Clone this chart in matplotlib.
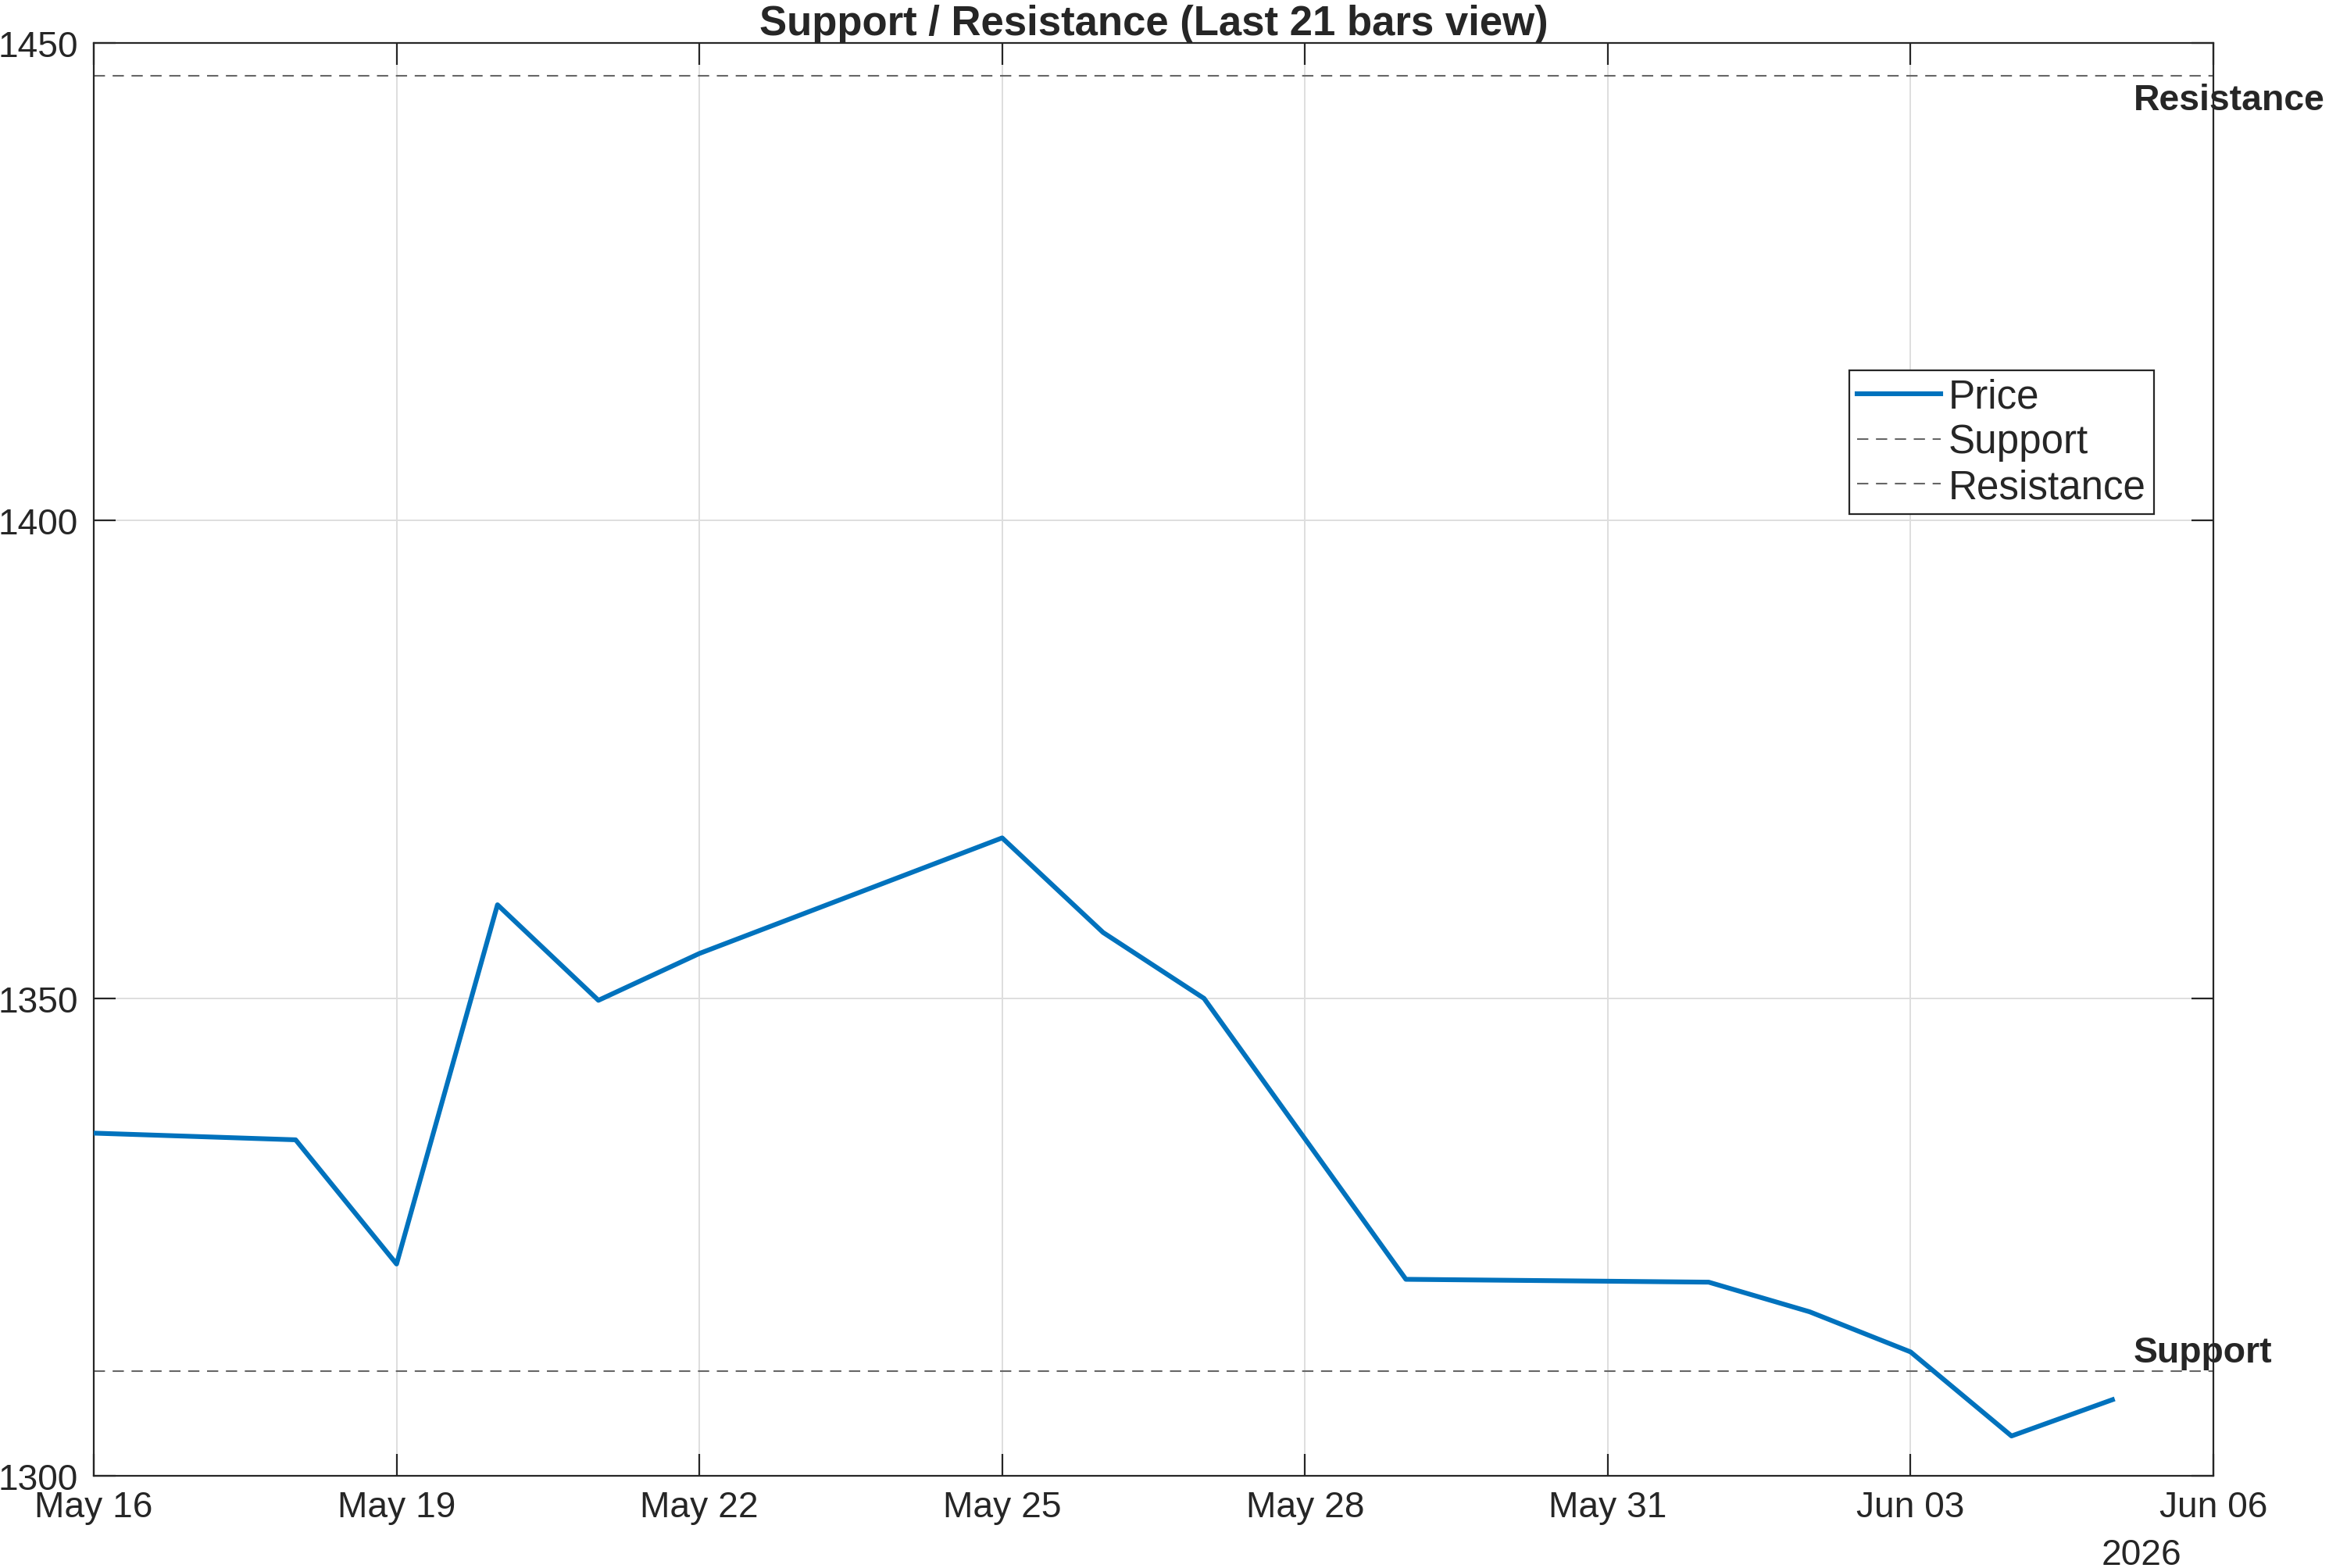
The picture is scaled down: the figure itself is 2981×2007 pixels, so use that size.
import matplotlib
matplotlib.use("Agg")
import matplotlib.pyplot as plt
import matplotlib.dates as mdates
import numpy as np
import datetime as dt

# ---- data ----
dates = ["2026-05-16", "2026-05-18", "2026-05-19", "2026-05-20", "2026-05-21",
         "2026-05-22", "2026-05-25", "2026-05-26", "2026-05-27", "2026-05-29",
         "2026-06-01", "2026-06-02", "2026-06-03", "2026-06-04", "2026-06-05"]
prices = [1335.9, 1335.2, 1322.2, 1359.8, 1349.8,
          1354.7, 1366.8, 1356.9, 1350.0, 1320.6,
          1320.3, 1317.2, 1313.0, 1304.2, 1308.0]
support_level = 1311.0
resistance_level = 1446.6
x_tick_labels_dates = ["2026-05-16", "2026-05-19", "2026-05-22", "2026-05-25",
                       "2026-05-28", "2026-05-31", "2026-06-03", "2026-06-06"]
y_ticks = [1300, 1350, 1400, 1450]
title_text = "Support / Resistance (Last 21 bars view)"
year_label = "2026"

x = [dt.datetime.strptime(d, "%Y-%m-%d") for d in dates]
xt = [dt.datetime.strptime(d, "%Y-%m-%d") for d in x_tick_labels_dates]

plt.rcParams['font.family'] = ['Liberation Sans', 'DejaVu Sans']

W, H = 2981, 2008
DPI = 200
fig = plt.figure(figsize=(W / DPI, H / DPI), dpi=DPI)
L, R, T, B = 120, 2833, 56, 1890.4
ax = fig.add_axes([L / W, 1 - B / H, (R - L) / W, (B - T) / H])

blue = (0.0, 0.447, 0.741)
gray = (0.40, 0.40, 0.40)
dark = (0.15, 0.15, 0.15)

ax.plot(x, prices, color=blue, lw=2.2, label="Price", zorder=3)
ax.axhline(support_level, color=gray, lw=0.75, dashes=(6.9, 4.7), label="Support", zorder=2)
ax.axhline(resistance_level, color=gray, lw=0.75, dashes=(6.9, 4.7), label="Resistance", zorder=2)

ax.set_xlim(xt[0], xt[-1])
ax.set_ylim(y_ticks[0], y_ticks[-1])
ax.set_xticks(xt)
ax.xaxis.set_major_formatter(mdates.DateFormatter("%b %d"))
ax.set_yticks(y_ticks)

ax.grid(True, color=(0.87, 0.87, 0.87), lw=0.7, zorder=0)
ax.set_axisbelow(True)
for s in ax.spines.values():
    s.set_color(dark)
    s.set_linewidth(0.8)
ax.tick_params(axis='both', direction='in', length=10, width=0.8, color=dark,
               labelsize=16.6, labelcolor=dark, top=True, right=True)
ax.tick_params(axis='y', pad=7.2)
ax.tick_params(axis='x', pad=6.5)

ax.set_title(title_text, fontsize=19, fontweight='bold', color=dark, pad=4)

# level labels
ax.annotate("Support", xy=(x[-1], support_level), xytext=(9.7, 4.1),
            textcoords='offset points', ha='left', va='baseline',
            fontsize=16.7, fontweight='bold', color=dark, annotation_clip=False)
ax.annotate("Resistance", xy=(x[-1], resistance_level), xytext=(9.7, -15.6),
            textcoords='offset points', ha='left', va='baseline',
            fontsize=16.7, fontweight='bold', color=dark, annotation_clip=False)

leg = ax.legend(loc='upper left', bbox_to_anchor=(2366.5 / W, 1 - 474.5 / H),
                bbox_transform=fig.transFigure, borderaxespad=0,
                fontsize=18.4, handlelength=2.1, handletextpad=0.19,
                labelspacing=0.17, borderpad=0.2, fancybox=False,
                framealpha=1, edgecolor=dark)
leg.get_frame().set_linewidth(0.8)
for t in leg.get_texts():
    t.set_color(dark)

fig.text(2792 / W, 1 - 2003 / H, year_label, ha='right', va='baseline',
         fontsize=16.6, color=dark)

fig.savefig("out.png", dpi=DPI)
